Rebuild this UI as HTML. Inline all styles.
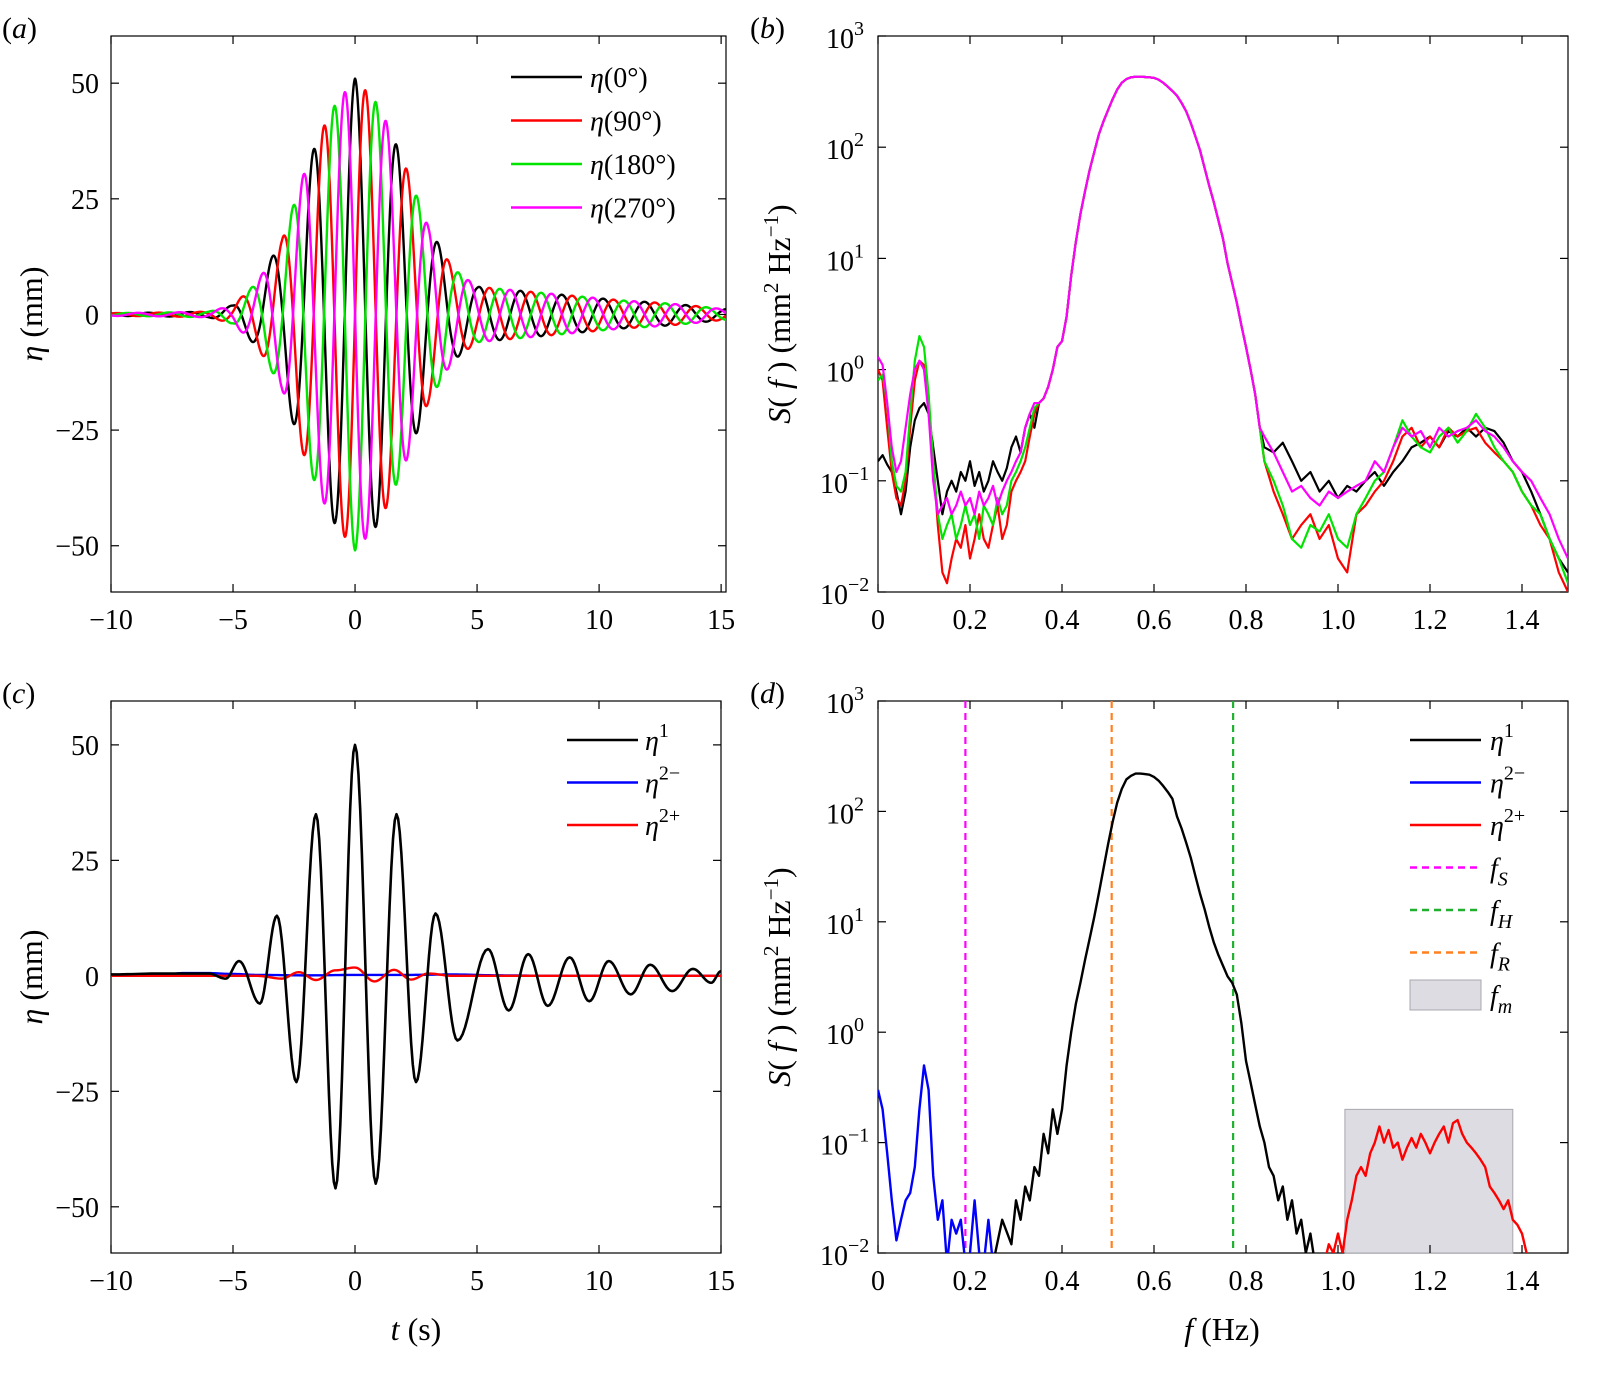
<!DOCTYPE html>
<html><head><meta charset="utf-8">
<style>
html,body{margin:0;padding:0;background:#fff;}
svg{display:block;font-family:"Liberation Serif",serif;}
text{fill:#000;}
</style></head>
<body>
<svg id="fig" width="1599" height="1379" viewBox="0 0 1599 1379" xmlns="http://www.w3.org/2000/svg">
<defs>
<clipPath id="clipB"><rect x="878" y="36" width="690" height="556"/></clipPath>
<clipPath id="clipD"><rect x="878" y="701" width="690" height="552"/></clipPath>
<clipPath id="clipA"><rect x="111" y="36" width="615" height="556"/></clipPath>
<clipPath id="clipC"><rect x="111" y="701" width="610" height="552"/></clipPath>
</defs>
</svg>
<script>
// ---------- DATA ----------
const envT = [-10,-8,-6,-5,-4,-3,-2,-1,0,1,2,3,4,5,6,7,8,9,10,11,12,13,14,15];
const envA = [0.3,0.4,0.6,2,7,16,32,44,51,45,33,19,10,6,5.5,5,4.5,4,3.5,3,2.7,2.3,1.8,1.2];
const carrierF = 0.59;
const phasesA = [0,90,180,270];
const namesA = ['0°','90°','180°','270°'];
const colorsA = ['#000000','#ff0000','#00e400','#ff00ff'];

const lowF = [0,0.01,0.02,0.03,0.04,0.05,0.06,0.07,0.08,0.09,0.10,0.11,0.12,0.13,0.14,0.15,0.16,0.17,0.18,0.19,0.20,0.21,0.22,0.23,0.24,0.25,0.26,0.27,0.28,0.29,0.30,0.31,0.32,0.33,0.34];
const lowBlack = [0.15,0.17,0.14,0.12,0.08,0.05,0.08,0.2,0.35,0.45,0.5,0.4,0.2,0.1,0.05,0.08,0.1,0.08,0.12,0.1,0.15,0.09,0.12,0.08,0.1,0.15,0.12,0.1,0.13,0.2,0.25,0.18,0.3,0.4,0.3];
const lowRed = [1.0,0.8,0.3,0.12,0.07,0.06,0.1,0.3,0.8,1.2,1.1,0.5,0.15,0.04,0.015,0.012,0.02,0.03,0.025,0.04,0.02,0.03,0.05,0.03,0.025,0.04,0.06,0.03,0.04,0.08,0.1,0.12,0.15,0.25,0.4];
const lowGreen = [0.8,0.9,0.5,0.15,0.09,0.08,0.12,0.4,1.2,2.0,1.6,0.6,0.15,0.05,0.03,0.04,0.05,0.03,0.04,0.06,0.04,0.05,0.03,0.06,0.05,0.04,0.07,0.05,0.06,0.1,0.12,0.15,0.2,0.3,0.45];
const lowMagenta = [1.3,1.1,0.5,0.2,0.12,0.15,0.3,0.6,1.0,1.2,1.0,0.4,0.1,0.05,0.06,0.07,0.05,0.06,0.08,0.06,0.07,0.05,0.08,0.06,0.07,0.09,0.06,0.08,0.1,0.12,0.15,0.18,0.3,0.4,0.5];
const mainF = [0.35,0.36,0.37,0.38,0.39,0.40,0.41,0.42,0.43,0.44,0.45,0.46,0.47,0.48,0.49,0.50,0.51,0.52,0.53,0.54,0.55,0.56,0.57,0.58,0.59,0.60,0.61,0.62,0.63,0.64,0.65,0.66,0.67,0.68,0.69,0.70,0.71,0.72,0.73,0.74,0.75,0.76,0.77,0.78,0.79,0.80,0.81,0.82,0.83];
const mainS = [0.5,0.55,0.7,1.0,1.6,1.8,3,7,14,25,40,62,90,130,170,215,270,330,380,410,425,430,430,428,425,420,405,380,350,320,290,250,210,165,125,94,65,45,32,22,15,9,6,4,2.5,1.6,1.0,0.6,0.3];
const highF = [0.84,0.86,0.88,0.90,0.92,0.94,0.96,0.98,1.00,1.02,1.04,1.06,1.08,1.10,1.12,1.14,1.16,1.18,1.20,1.22,1.24,1.26,1.28,1.30,1.32,1.34,1.36,1.38,1.40,1.42,1.44,1.46,1.48,1.50];
const highBlack = [0.2,0.18,0.22,0.15,0.1,0.12,0.08,0.1,0.07,0.09,0.08,0.1,0.12,0.09,0.12,0.15,0.2,0.22,0.25,0.2,0.28,0.25,0.3,0.25,0.3,0.28,0.22,0.15,0.12,0.08,0.05,0.03,0.02,0.015];
const highRed = [0.15,0.08,0.05,0.03,0.04,0.05,0.03,0.04,0.02,0.015,0.05,0.06,0.08,0.1,0.15,0.25,0.3,0.2,0.25,0.2,0.3,0.25,0.28,0.3,0.22,0.18,0.15,0.12,0.08,0.06,0.04,0.03,0.015,0.01];
const highGreen = [0.15,0.1,0.06,0.03,0.025,0.04,0.035,0.05,0.03,0.025,0.05,0.07,0.1,0.12,0.2,0.35,0.25,0.2,0.18,0.25,0.3,0.22,0.28,0.4,0.3,0.2,0.15,0.12,0.08,0.06,0.05,0.03,0.02,0.012];
const highMagenta = [0.25,0.18,0.12,0.08,0.09,0.07,0.06,0.08,0.07,0.08,0.09,0.1,0.15,0.12,0.2,0.3,0.25,0.28,0.2,0.3,0.25,0.28,0.3,0.35,0.28,0.25,0.2,0.15,0.12,0.1,0.07,0.05,0.03,0.02];

const c1T = [-10,-8,-6,-5.3,-4.75,-3.9,-3.2,-2.4,-1.6,-0.8,0,0.85,1.7,2.5,3.3,4.2,5.45,6.3,7.1,7.9,8.8,9.6,10.4,11.3,12.1,13.0,13.85,14.6,15];
const c1V = [0.3,0.5,0.5,-0.6,3.2,-6,13,-23,35,-46,50,-45,35,-23,13.5,-14,5.8,-7.5,4.7,-6.5,4,-5.5,3.2,-4,2.4,-3.3,1.5,-1.5,1];
const c2mT = [-10,-8,-7,-6,-5,-4,-2,0,2,4,6,8,10,12,15];
const c2mV = [0,0.2,0.6,0.6,0.4,0.2,0.1,0.2,0.2,0.3,0.1,0,0,0,0];
const c2pT = [-10,-4,-3,-2.3,-1.6,-0.8,0,0.8,1.6,2.3,3,4,15];
const c2pV = [0,0,-0.6,0.8,-0.9,1.2,1.8,-1.2,1.3,-0.8,0.5,0,0];

const dBlackF = [0.25,0.27,0.29,0.30,0.31,0.32,0.33,0.34,0.35,0.36,0.37,0.38,0.39,0.40,0.41,0.42,0.43,0.44,0.45,0.46,0.47,0.48,0.49,0.50,0.51,0.52,0.53,0.54,0.55,0.56,0.57,0.58,0.59,0.60,0.61,0.62,0.63,0.64,0.65,0.66,0.67,0.68,0.69,0.70,0.71,0.72,0.73,0.74,0.75,0.76,0.77,0.78,0.79,0.80,0.81,0.82,0.83,0.84,0.85,0.86,0.87,0.88,0.89,0.90,0.91,0.92,0.93,0.94,0.95];
const dBlackS = [0.008,0.02,0.012,0.03,0.02,0.04,0.03,0.06,0.05,0.12,0.08,0.2,0.12,0.2,0.5,1.0,1.8,2.8,4.5,7,11,18,30,50,80,120,160,195,210,220,220,218,215,205,190,170,150,130,90,70,52,38,26,18,13,9,6.5,5,4,3.2,2.8,2.2,1.2,0.55,0.35,0.22,0.14,0.1,0.06,0.05,0.03,0.04,0.02,0.03,0.015,0.02,0.01,0.015,0.008];
const dBlueF = [0,0.01,0.02,0.03,0.04,0.05,0.06,0.07,0.08,0.09,0.10,0.11,0.12,0.13,0.14,0.15,0.16,0.17,0.18,0.19,0.20,0.21,0.22,0.23,0.24,0.25];
const dBlueS = [0.3,0.2,0.08,0.03,0.013,0.02,0.03,0.035,0.06,0.2,0.5,0.3,0.05,0.02,0.03,0.008,0.02,0.015,0.02,0.008,0.01,0.03,0.01,0.008,0.02,0.008];
const dRedF = [0.97,0.98,0.99,1.00,1.01,1.02,1.03,1.04,1.05,1.06,1.07,1.08,1.09,1.10,1.11,1.12,1.13,1.14,1.15,1.16,1.17,1.18,1.19,1.20,1.21,1.22,1.23,1.24,1.25,1.26,1.27,1.28,1.29,1.30,1.31,1.32,1.33,1.34,1.35,1.36,1.37,1.38,1.39,1.40,1.41,1.42];
const dRedS = [0.008,0.012,0.01,0.015,0.01,0.02,0.03,0.05,0.06,0.05,0.08,0.1,0.14,0.1,0.13,0.09,0.1,0.07,0.09,0.11,0.09,0.12,0.1,0.08,0.1,0.12,0.14,0.1,0.15,0.16,0.12,0.1,0.09,0.08,0.07,0.06,0.04,0.035,0.03,0.025,0.03,0.02,0.018,0.015,0.01,0.006];
const fS = 0.19, fH = 0.772, fR = 0.508;
const fmRange = [1.015, 1.38];
const fmTop = 0.2;

// ---------- DRAWING ----------
const svg = document.getElementById('fig');
const NS = 'http://www.w3.org/2000/svg';
function mk(tag, attrs, parent){const e=document.createElementNS(NS,tag);for(const k in attrs)e.setAttribute(k,attrs[k]);(parent||svg).appendChild(e);return e;}

const A = {x0:111,x1:726,y0:36,y1:592,tmin:-10,tmax:15.2,vmin:-60,vmax:60.2};
const C = {x0:111,x1:721,y0:701,y1:1253,tmin:-10,tmax:15,vmin:-60,vmax:59.5};
const B = {x0:878,x1:1568,y0:36,y1:592,fmin:0,fmax:1.5,lmin:-2,lmax:3};
const D = {x0:878,x1:1568,y0:701,y1:1253,fmin:0,fmax:1.5,lmin:-2,lmax:3};
function lx(ax,t){return ax.x0+(t-ax.tmin)/(ax.tmax-ax.tmin)*(ax.x1-ax.x0);}
function ly(ax,v){return ax.y1-(v-ax.vmin)/(ax.vmax-ax.vmin)*(ax.y1-ax.y0);}
function sx(ax,f){return ax.x0+(f-ax.fmin)/(ax.fmax-ax.fmin)*(ax.x1-ax.x0);}
function sy(ax,s){return ax.y1-(Math.log10(Math.max(s,1e-6))-ax.lmin)/(ax.lmax-ax.lmin)*(ax.y1-ax.y0);}

function frame(ax,name){
  mk('rect',{x:ax.x0,y:ax.y0,width:ax.x1-ax.x0,height:ax.y1-ax.y0,fill:'none',stroke:'#000','stroke-width':1.2,});
}
function txt(x,y,s,opt,name){const e=mk('text',Object.assign({x:x,y:y,'font-size':28},opt||{}));e.textContent=s;return e;}
// rich text: parts = [[text, {attrs}], ...]
function rich(x,y,parts,opt,name){
  const e=mk('text',Object.assign({x:x,y:y,'font-size':28},opt||{}));
  parts.forEach(p=>{const ts=document.createElementNS(NS,'tspan');for(const k in (p[1]||{}))ts.setAttribute(k,p[1][k]);ts.textContent=p[0];e.appendChild(ts);});
  return e;
}

function linearTicks(ax,name,xt,yt){
  const g=mk('g',{});
  xt.forEach(t=>{const x=lx(ax,t);
    mk('line',{x1:x,x2:x,y1:ax.y1,y2:ax.y1-8,stroke:'#000','stroke-width':1.2},g);
    mk('line',{x1:x,x2:x,y1:ax.y0,y2:ax.y0+8,stroke:'#000','stroke-width':1.2},g);
    txt(x,ax.y1+37,(t<0?'\u2212'+(-t):''+t),{'text-anchor':'middle'},'x-tick-label');});
  yt.forEach(v=>{const y=ly(ax,v);
    mk('line',{x1:ax.x0,x2:ax.x0+8,y1:y,y2:y,stroke:'#000','stroke-width':1.2},g);
    mk('line',{x1:ax.x1,x2:ax.x1-8,y1:y,y2:y,stroke:'#000','stroke-width':1.2},g);
    txt(ax.x0-12,y+10,(v<0?'\u2212'+(-v):''+v),{'text-anchor':'end'},'y-tick-label');});
}
function logTicks(ax,name,xt){
  const g=mk('g',{});
  xt.forEach(f=>{const x=sx(ax,f);
    mk('line',{x1:x,x2:x,y1:ax.y1,y2:ax.y1-8,stroke:'#000','stroke-width':1.2},g);
    mk('line',{x1:x,x2:x,y1:ax.y0,y2:ax.y0+8,stroke:'#000','stroke-width':1.2},g);
    txt(x,ax.y1+37,f===0?'0':f.toFixed(1),{'text-anchor':'middle'},'x-tick-label');});
  for(let p=ax.lmin;p<=ax.lmax;p++){const y=sy(ax,Math.pow(10,p));
    mk('line',{x1:ax.x0,x2:ax.x0+8,y1:y,y2:y,stroke:'#000','stroke-width':1.2},g);
    mk('line',{x1:ax.x1,x2:ax.x1-8,y1:y,y2:y,stroke:'#000','stroke-width':1.2},g);
    rich(p>=0?ax.x0-52:ax.x0-58,y+12,[['10',{}],[(p<0?'\u2212'+(-p):''+p),{dy:'-13','font-size':'20'}]],{},'y-tick-label');
  }
}
function poly(pts,color,clip,name,w,dash){
  const d=pts.map((p,i)=>(i?'L':'M')+p[0].toFixed(2)+' '+p[1].toFixed(2)).join(' ');
  const e=mk('path',{d:d,fill:'none',stroke:color,'stroke-width':w||2.4,'stroke-linejoin':'round','clip-path':'url(#'+clip+')'});
  if(dash)e.setAttribute('stroke-dasharray',dash);
  
  
  return e;
}
function interpLin(xs,ys,x){
  if(x<=xs[0])return ys[0]; if(x>=xs[xs.length-1])return ys[ys.length-1];
  for(let i=0;i<xs.length-1;i++){if(x<=xs[i+1]){const r=(x-xs[i])/(xs[i+1]-xs[i]);return ys[i]+r*(ys[i+1]-ys[i]);}}
}
function extremaCurve(ax,ts,vs){
  const pts=[];
  for(let i=0;i<ts.length-1;i++){
    for(let k=0;k<12;k++){const r=k/12;const w=(1-Math.cos(Math.PI*r))/2;
      pts.push([lx(ax,ts[i]+r*(ts[i+1]-ts[i])),ly(ax,vs[i]+w*(vs[i+1]-vs[i]))]);}
  }
  pts.push([lx(ax,ts[ts.length-1]),ly(ax,vs[vs.length-1])]);
  return pts;
}
const IT={'font-style':'italic'};
function tag(x,y,l,name){rich(x,y,[['(',{}],[l,IT],[')',{}]],{'font-size':30},name);}
function specTitle(cx,cy){
  rich(0,0,[['S',IT],['( ',{}],['f',IT],[' ) (mm',{}],['2',{dy:'-12','font-size':'21'}],[' Hz',{dy:'12'}],['\u22121',{dy:'-12','font-size':'21'}],[')',{dy:'12'}]],
    {transform:'translate('+cx+','+cy+') rotate(-90)','text-anchor':'middle','font-size':32},'y-axis-title');
}

// ---- Panel (a)
frame(A,'panel-a');
linearTicks(A,'panel-a',[-10,-5,0,5,10,15],[-50,-25,0,25,50]);
tag(2,38,'a','panel-a-tag');
phasesA.forEach((ph,si)=>{
  const pts=[];
  for(let t=-10;t<=15.2;t+=0.02){
    const v=interpLin(envT,envA,t)*Math.cos(2*Math.PI*carrierF*t - ph*Math.PI/180);
    pts.push([lx(A,t),ly(A,v)]);
  }
  poly(pts,colorsA[si],'clipA','series-eta-'+ph,2.4);
});
namesA.forEach((n,i)=>{const y=77+i*43.5;
  const l=mk('line',{x1:511,x2:582,y1:y,y2:y,stroke:colorsA[i],'stroke-width':2.4});
  
  rich(590,y+10,[['η',IT],['('+n+')',{}]],{},'legend-entry');
});
rich(0,0,[['η',IT],[' (mm)',{}]],{transform:'translate(42,314) rotate(-90)','text-anchor':'middle','font-size':32},'y-axis-title');

// ---- Panel (b)
frame(B,'panel-b');
logTicks(B,'panel-b',[0,0.2,0.4,0.6,0.8,1.0,1.2,1.4]);
tag(750,38,'b','panel-b-tag');
const specB=[['black',lowBlack,highBlack],['red',lowRed,highRed],['green',lowGreen,highGreen],['magenta',lowMagenta,highMagenta]];
const colB={black:'#000',red:'#ff0000',green:'#00e400',magenta:'#ff00ff'};
specB.forEach(([c,lo,hi])=>{
  const pts=[];
  lowF.forEach((f,i)=>pts.push([sx(B,f),sy(B,lo[i])]));
  mainF.forEach((f,i)=>pts.push([sx(B,f),sy(B,mainS[i])]));
  highF.forEach((f,i)=>pts.push([sx(B,f),sy(B,hi[i])]));
  poly(pts,colB[c],'clipB','spectrum-'+c,2.2);
});
specTitle(790,314);

// ---- Panel (c)
frame(C,'panel-c');
linearTicks(C,'panel-c',[-10,-5,0,5,10,15],[-50,-25,0,25,50]);
tag(2,703,'c','panel-c-tag');
poly(extremaCurve(C,c2mT,c2mV),'#0000ff','clipC','series-eta2-minus',2.4);
poly(extremaCurve(C,c2pT,c2pV),'#ff0000','clipC','series-eta2-plus',2.4);
poly(extremaCurve(C,c1T,c1V),'#000','clipC','series-eta1',2.6);
const legC=[['η','1','#000'],['η','2−','#0000ff'],['η','2+','#ff0000']];
legC.forEach((l,i)=>{const y=740+i*42.5;
  const ln=mk('line',{x1:567,x2:638,y1:y,y2:y,stroke:l[2],'stroke-width':2.4});
  
  rich(645,y+10,[[l[0],IT],[l[1],{dy:'-13','font-size':'20'}]],{},'legend-entry');
});
rich(0,0,[['η',IT],[' (mm)',{}]],{transform:'translate(42,977) rotate(-90)','text-anchor':'middle','font-size':32},'y-axis-title');
rich(416,1340,[['t',IT],[' (s)',{}]],{'text-anchor':'middle','font-size':32},'x-axis-title');

// ---- Panel (d)
frame(D,'panel-d');
const fm=mk('rect',{x:sx(D,fmRange[0]),y:sy(D,fmTop),width:sx(D,fmRange[1])-sx(D,fmRange[0]),height:D.y1-sy(D,fmTop),fill:'#dcdce2',stroke:'#a8a8b0','stroke-width':1});

logTicks(D,'panel-d',[0,0.2,0.4,0.6,0.8,1.0,1.2,1.4]);
tag(750,703,'d','panel-d-tag');
[[fS,'#ff00ff','fs-line'],[fR,'#ff8020','fr-line'],[fH,'#20b030','fh-line']].forEach(([f,c,n])=>{
  poly([[sx(D,f),D.y0],[sx(D,f),D.y1]],c,'clipD',n,2.2,'7 5');
});
poly(dBlueF.map((f,i)=>[sx(D,f),sy(D,dBlueS[i])]),'#0000ff','clipD','spectrum-eta2-minus',2.4);
poly(dBlackF.map((f,i)=>[sx(D,f),sy(D,dBlackS[i])]),'#000','clipD','spectrum-eta1',2.4);
poly(dRedF.map((f,i)=>[sx(D,f),sy(D,dRedS[i])]),'#ff0000','clipD','spectrum-eta2-plus',2.4);
const legD=[['η','1','#000',0,'sup'],['η','2−','#0000ff',0,'sup'],['η','2+','#ff0000',0,'sup'],['f','S','#ff00ff',1,'sub'],['f','H','#20b030',1,'sub'],['f','R','#ff8020',1,'sub']];
legD.forEach((l,i)=>{const y=740+i*42.5;
  const ln=mk('line',{x1:1410,x2:1481,y1:y,y2:y,stroke:l[2],'stroke-width':2.4});
  if(l[3])ln.setAttribute('stroke-dasharray','7 5');
  
  const subAttrs=l[4]==='sup'?{dy:'-13','font-size':'20'}:{dy:'8','font-size':'20','font-style':'italic'};
  rich(1490,y+10,[[l[0],IT],[l[1],subAttrs]],{},'legend-entry');
});
const lr=mk('rect',{x:1410,y:980,width:71,height:30,fill:'#dcdce2',stroke:'#a8a8b0','stroke-width':1});

rich(1490,1005,[['f',IT],['m',{dy:'8','font-size':'20','font-style':'italic'}]],{},'legend-entry');
specTitle(790,977);
rich(1222,1340,[['f',IT],[' (Hz)',{}]],{'text-anchor':'middle','font-size':32},'x-axis-title');
</script>
</body></html>
